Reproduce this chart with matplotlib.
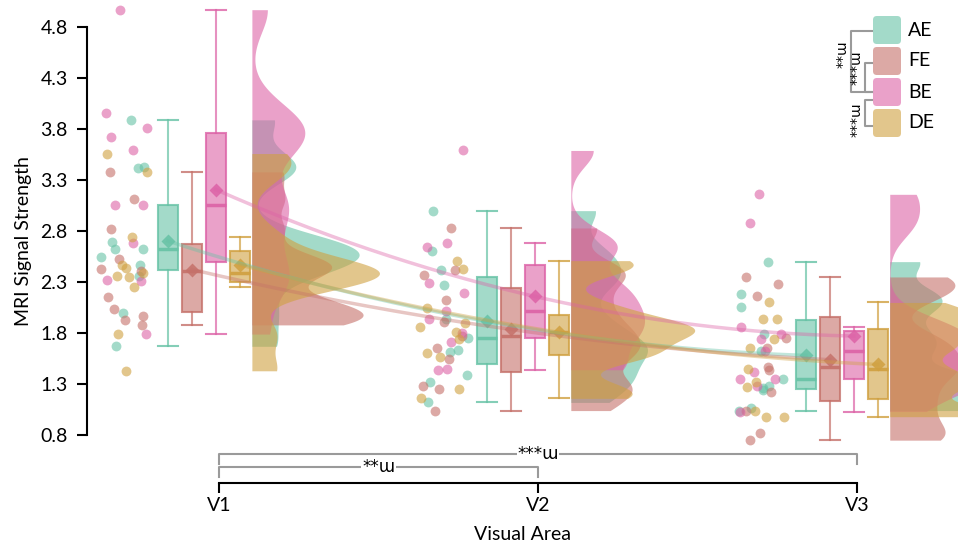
import numpy as np
import matplotlib
matplotlib.use('Agg')
import matplotlib.pyplot as plt
from matplotlib.patches import FancyBboxPatch
from matplotlib.lines import Line2D
from matplotlib.colors import to_rgba

plt.rcParams['font.family'] = ['Lato', 'DejaVu Sans']
plt.rcParams['font.size'] = 13

areas = ['V1', 'V2', 'V3']
groups = ['AE', 'FE', 'BE', 'DE']
colors = ['#66c2a5', '#c5716a', '#dc62a6', '#d0a040']

# signal strength per subject, one list per visual area
ae = [[3.89, 3.43, 3.42, 2.69, 2.62, 2.62, 2.55, 2.47, 2.36, 2.00, 1.67],
      [3.00, 2.60, 2.42, 2.27, 1.94, 1.75, 1.63, 1.61, 1.39, 1.32, 1.12],
      [2.50, 2.18, 2.06, 1.79, 1.62, 1.35, 1.28, 1.26, 1.24, 1.07, 1.04]]
fe = [[3.38, 3.11, 2.82, 2.53, 2.43, 2.41, 2.15, 2.04, 1.97, 1.93, 1.88],
      [2.83, 2.42, 2.37, 2.12, 1.91, 1.77, 1.65, 1.55, 1.28, 1.25, 1.04],
      [2.35, 2.28, 2.16, 1.75, 1.65, 1.47, 1.44, 1.22, 1.04, 0.82, 0.75]]
be = [[4.97, 3.96, 3.81, 3.72, 3.59, 3.06, 3.06, 2.68, 2.32, 2.31, 1.79],
      [3.59, 2.68, 2.64, 2.29, 2.19, 2.02, 1.94, 1.80, 1.71, 1.45, 1.44],
      [3.16, 2.88, 1.86, 1.79, 1.74, 1.62, 1.42, 1.35, 1.35, 1.28, 1.03]]
de = [[3.56, 3.38, 2.74, 2.47, 2.44, 2.39, 2.36, 2.35, 2.25, 1.79, 1.43],
      [2.51, 2.43, 2.05, 1.90, 1.86, 1.81, 1.74, 1.60, 1.57, 1.25, 1.16],
      [2.10, 1.94, 1.94, 1.74, 1.65, 1.45, 1.32, 1.27, 1.04, 0.98, 0.98]]
data = [ae, fe, be, de]

yticks = [0.8, 1.3, 1.8, 2.3, 2.8, 3.3, 3.8, 4.3, 4.8]

W, H = 958, 544
fig = plt.figure(figsize=(W / 100, H / 100), dpi=100)
ax = fig.add_axes([87 / W, 1 - 483 / H, 1 - 87 / W, 483 / H])
ax.set_xlim(-0.414, 2.317)
ax.set_ylim(0.33, 5.065)

box_off = [-0.16, -0.085, -0.01, 0.065]
box_w = 0.062
viol_start = 0.103
rng = np.random.default_rng(7)

# half violins (gaussian kde, cut at data range, common scale)
kdes = {}
for gi, g in enumerate(data):
    for ai, vals in enumerate(g):
        v = np.array(vals)
        bw = 0.25 * v.std(ddof=1)
        grid = np.linspace(v.min(), v.max(), 300)
        dens = np.exp(-0.5 * ((grid[:, None] - v[None, :]) / bw) ** 2).sum(1)
        dens /= len(v) * bw * np.sqrt(2 * np.pi)
        kdes[gi, ai] = (grid, dens)
dmax = max(d.max() for _, d in kdes.values())
vscale = 0.40 / dmax

for gi, (g, c) in enumerate(zip(data, colors)):
    for ai, vals in enumerate(g):
        grid, dens = kdes[gi, ai]
        x0 = ai + viol_start
        ax.fill_betweenx(grid, x0, x0 + dens * vscale, color=c, alpha=0.6, lw=0, zorder=1)

# boxes
for gi, (g, c) in enumerate(zip(data, colors)):
    pos = [ai + box_off[gi] for ai in range(3)]
    ax.boxplot(g, positions=pos, widths=box_w, capwidths=box_w, showfliers=False,
               patch_artist=True, showmeans=True, manage_ticks=False,
               boxprops=dict(facecolor=to_rgba(c, 0.6), edgecolor=to_rgba(c, 0.8), lw=1.5),
               whiskerprops=dict(color=to_rgba(c, 0.7), lw=1.5),
               capprops=dict(color=to_rgba(c, 0.8), lw=1.5),
               medianprops=dict(color=to_rgba(c, 0.9), lw=2.5),
               meanprops=dict(marker='D', markersize=7, markerfacecolor=to_rgba(c, 0.85),
                              markeredgecolor='none'),
               zorder=3)

# raw points
for gi, (g, c) in enumerate(zip(data, colors)):
    for ai, vals in enumerate(g):
        xs = ai - 0.295 + rng.uniform(-0.075, 0.075, len(vals))
        ax.scatter(xs, vals, s=50, color=c, alpha=0.6, lw=0, zorder=2)

# trend of means
for gi, (g, c) in enumerate(zip(data, colors)):
    xs = np.array([ai + box_off[gi] for ai in range(3)])
    ms = np.array([np.mean(v) for v in g])
    coef = np.polyfit(xs, ms, 2)
    xx = np.linspace(xs[0], xs[-1], 200)
    ax.plot(xx, np.polyval(coef, xx), color=c, alpha=0.4, lw=2.5, zorder=4)

# axes styling
for s in ['top', 'right']:
    ax.spines[s].set_visible(False)
ax.spines['left'].set_bounds(0.8, 4.8)
ax.spines['bottom'].set_bounds(0, 2)
for s in ['left', 'bottom']:
    ax.spines[s].set_linewidth(1.5)
ax.set_yticks(yticks)
ax.set_yticklabels([f'{t:.1f}' for t in yticks])
ax.set_xticks(range(3))
ax.set_xticklabels(areas)
ax.tick_params(axis='y', length=7, width=1.5, pad=7, labelsize=14)
ax.tick_params(axis='x', length=7, width=1.5, pad=3, labelsize=14)
ax.set_ylabel('MRI Signal Strength', fontsize=14, labelpad=6)
ax.set_xlabel('Visual Area', fontsize=14, labelpad=9)

# significance brackets between areas
def hbracket(x1, x2, y, drop, label):
    ax.plot([x1, x1, x2, x2], [y - drop, y, y, y - drop], color='#9a9a9a', lw=1.5,
            solid_joinstyle='round', zorder=5)
    ax.text((x1 + x2) / 2, y, label, ha='center', va='center', fontsize=12,
            family=['DejaVu Sans'], bbox=dict(fc='white', ec='none', pad=0.5), zorder=6)

hbracket(0, 2, 0.614, 0.095, '***ɯ')
hbracket(0, 1, 0.49, 0.10, '**ɯ')

# legend with group brackets, in pixel positions of the figure
def fx(x):
    return x / W

def fy(y):
    return 1 - y / H

for i, (g, c) in enumerate(zip(groups, colors)):
    top = 16 + 31 * i
    fig.patches.append(FancyBboxPatch((fx(873), fy(top + 28)), 28 / W, 28 / H,
                                      boxstyle='round,pad=0,rounding_size=0.004',
                                      mutation_aspect=W / H, transform=fig.transFigure,
                                      fc=c, alpha=0.6, ec='none'))
    fig.text(fx(908), fy(top + 14), g, ha='left', va='center', fontsize=14)

def vbracket(x, y1, y2, label, ly, lx):
    fig.lines.append(Line2D([fx(872), fx(x), fx(x), fx(872)], [fy(y1), fy(y1), fy(y2), fy(y2)],
                            transform=fig.transFigure, color='#9a9a9a', lw=1.5,
                            solid_joinstyle='round'))
    fig.text(fx(lx), fy(ly), label, rotation=90, ha='center', va='center', fontsize=10,
             family=['DejaVu Sans'])

vbracket(851, 31, 92, '**ɯ', 54, 843)
vbracket(865, 63, 92, '***ɯ', 68, 857)
vbracket(865, 100, 126, '***ɯ', 120, 857)

fig.savefig('out.png', dpi=100)
